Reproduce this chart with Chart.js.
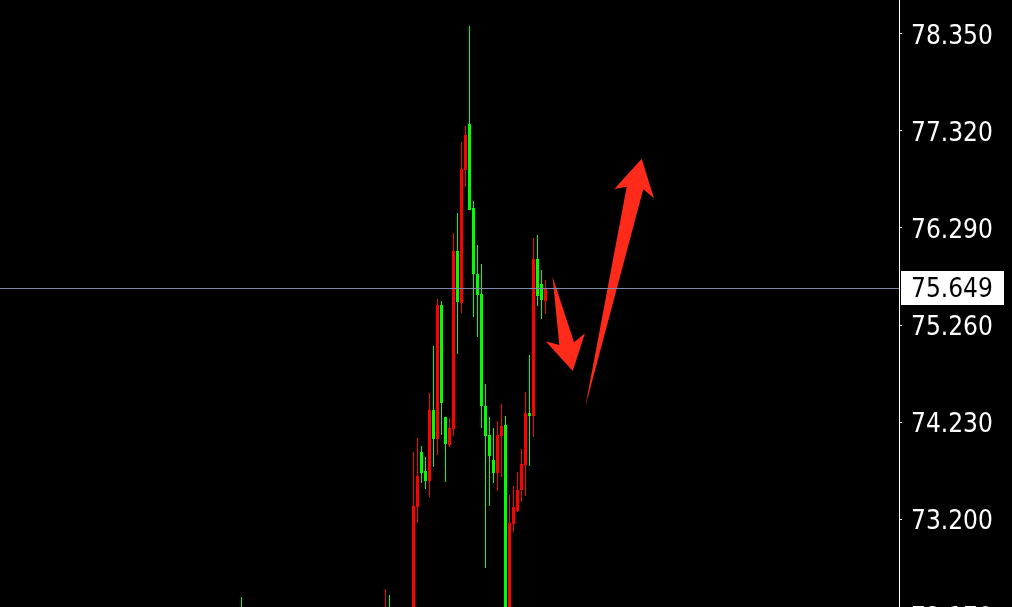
<!DOCTYPE html>
<html>
<head>
<meta charset="utf-8">
<script src="https://cdn.jsdelivr.net/npm/chart.js@4.4.1/dist/chart.umd.min.js"></script>
<style>
  html, body { margin: 0; padding: 0; background: #000; overflow: hidden; }
  canvas { display: block; }
</style>
</head>
<body>
<canvas id="priceChart" width="1012" height="607"></canvas>
<script>
// Bar number of each visible candle and its OHLC prices
const candleIndex = [0, 36, 37, 43, 44, 45, 46, 47, 48, 49, 50, 51, 52, 53, 54, 55, 56, 57, 58, 59,
  60, 61, 62, 63, 64, 65, 66, 67, 68, 69, 70, 71, 72, 73, 74, 75, 76];
const openPrices = [72.20, 72.10, 72.22, 72.05, 73.327, 73.911, 73.710, 73.603, 74.357, 74.049, 75.472, 74.283, 73.986, 74.156, 76.046, 75.494, 76.906, 77.394, 76.502, 75.801,
  75.589, 74.400, 74.092, 73.826, 73.688, 74.081, 74.198, 72.00, 73.147, 73.285, 73.508, 73.773, 74.325, 74.294, 75.961, 75.695, 75.515];
const highPrices = [72.372, 72.456, 72.393, 73.911, 74.060, 73.975, 73.858, 74.538, 75.037, 75.536, 75.515, 74.283, 74.272, 76.237, 76.449, 77.203, 77.373, 78.435, 76.577, 76.109,
  75.908, 74.633, 74.283, 74.166, 74.240, 74.421, 74.294, 73.455, 73.550, 73.699, 73.943, 74.548, 74.941, 76.184, 76.216, 75.844, 75.738];
const lowPrices = [71.95, 72.00, 72.05, 71.98, 73.157, 73.582, 73.518, 73.433, 73.752, 73.879, 74.092, 73.593, 73.964, 74.081, 74.952, 75.387, 76.725, 76.481, 75.345, 75.132,
  74.166, 72.679, 73.338, 73.582, 73.497, 73.646, 71.92, 71.90, 73.062, 73.274, 73.380, 73.444, 73.763, 74.071, 75.462, 75.324, 75.377];
const closePrices = [72.05, 72.22, 72.12, 73.338, 73.656, 73.688, 73.603, 74.357, 74.049, 75.472, 74.432, 73.996, 74.166, 76.046, 75.504, 76.916, 77.277, 76.481, 75.801, 75.578,
  74.400, 74.081, 73.869, 73.688, 74.092, 74.187, 72.00, 73.157, 73.327, 73.508, 73.784, 74.325, 74.294, 75.961, 75.568, 75.525, 75.649];

// Price axis labels
const yTicks = [78.350, 77.320, 76.290, 75.260, 74.230, 73.200, 72.170];
const lastPrice = 75.649;

// Hand drawn arrows, points as [bar, price]
const arrowDown = [[77.75, 75.775], [79.45, 75.047], [76.05, 75.087], [82.8, 74.771], [85.875, 75.172], [83.125, 75.076]];
const arrowUp = [[85.95, 74.392], [96.3, 76.728], [93.2, 76.704], [100.05, 77.026], [103.125, 76.605], [100.45, 76.701]];

const upColor = "#ff0000";
const downColor = "#00ff00";
const axisFont = { family: "'DejaVu Sans Condensed', 'DejaVu Sans', sans-serif", size: 26 };

const candleColors = candleIndex.map((_, i) => closePrices[i] >= openPrices[i] ? upColor : downColor);
const bodyData = candleIndex.map((x, i) => ({ x: x, y: [openPrices[i], closePrices[i]] }));
const wickData = candleIndex.map((x, i) => ({ x: x, y: [lowPrices[i], highPrices[i]] }));

// arrows, bid line and price box
const overlayPlugin = {
  id: "overlay",
  afterDatasetsDraw(chart) {
    const ctx = chart.ctx;
    const xs = chart.scales.x;
    const ys = chart.scales.y;
    const area = chart.chartArea;
    ctx.save();
    ctx.beginPath();
    ctx.rect(area.left, area.top, area.right - area.left, area.bottom - area.top);
    ctx.clip();
    ctx.fillStyle = "#fe2b1b";
    [arrowDown, arrowUp].forEach(pts => {
      ctx.beginPath();
      pts.forEach(([b, p], i) => {
        const px = xs.getPixelForValue(b);
        const py = ys.getPixelForValue(p);
        if (i === 0) ctx.moveTo(px, py); else ctx.lineTo(px, py);
      });
      ctx.closePath();
      ctx.fill();
    });
    const y = Math.round(ys.getPixelForValue(lastPrice)) + 0.5;
    ctx.strokeStyle = "#7f8ba6";
    ctx.lineWidth = 1;
    ctx.beginPath();
    ctx.moveTo(area.left, y);
    ctx.lineTo(area.right, y);
    ctx.stroke();
    ctx.restore();
  },
  afterDraw(chart) {
    const ctx = chart.ctx;
    const ys = chart.scales.y;
    const area = chart.chartArea;
    const y = Math.round(ys.getPixelForValue(lastPrice));
    ctx.save();
    ctx.fillStyle = "#ffffff";
    ctx.fillRect(area.right + 2, y - 17, 1004 - area.right - 2, 34);
    ctx.fillStyle = "#000000";
    ctx.font = axisFont.size + "px " + axisFont.family;
    ctx.textBaseline = "middle";
    ctx.textAlign = "left";
    ctx.fillText(lastPrice.toFixed(3), area.right + 12, y + 2);
    ctx.restore();
  }
};

window.onload = function () {
  const ctx = document.getElementById("priceChart").getContext("2d");
  new Chart(ctx, {
    type: "bar",
    data: {
      datasets: [
        {
          data: wickData,
          backgroundColor: candleColors,
          barThickness: 1,
          grouped: false,
          borderWidth: 0,
          inflateAmount: 0,
        },
        {
          data: bodyData,
          backgroundColor: candleColors,
          barThickness: 3,
          grouped: false,
          borderWidth: 0,
          inflateAmount: 0,
        },
      ],
    },
    options: {
      responsive: false,
      animation: false,
      events: [],
      layout: { padding: 0 },
      plugins: {
        legend: { display: false },
        tooltip: { enabled: false },
      },
      scales: {
        x: {
          type: "linear",
          display: false,
          offset: false,
          min: -60.375,
          max: 164.375,
        },
        y: {
          position: "right",
          beginAtZero: false,
          min: 72.2656,
          max: 78.711,
          border: { display: true, color: "#ffffff", width: 1 },
          grid: { drawOnChartArea: false, drawTicks: true, tickLength: 3, color: "#ffffff" },
          ticks: {
            color: "#ffffff",
            padding: 9,
            labelOffset: 3,
            autoSkip: false,
            font: axisFont,
            callback: function (value) {
              return Number(value).toFixed(3);
            },
          },
          afterBuildTicks: function (scale) {
            scale.ticks = yTicks.map(v => ({ value: v }));
          },
          afterFit: function (scale) {
            scale.width = 113;
            scale.paddingTop = 0;
            scale.paddingBottom = 0;
          },
        },
      },
    },
    plugins: [overlayPlugin],
  });
};
</script>
</body>
</html>
